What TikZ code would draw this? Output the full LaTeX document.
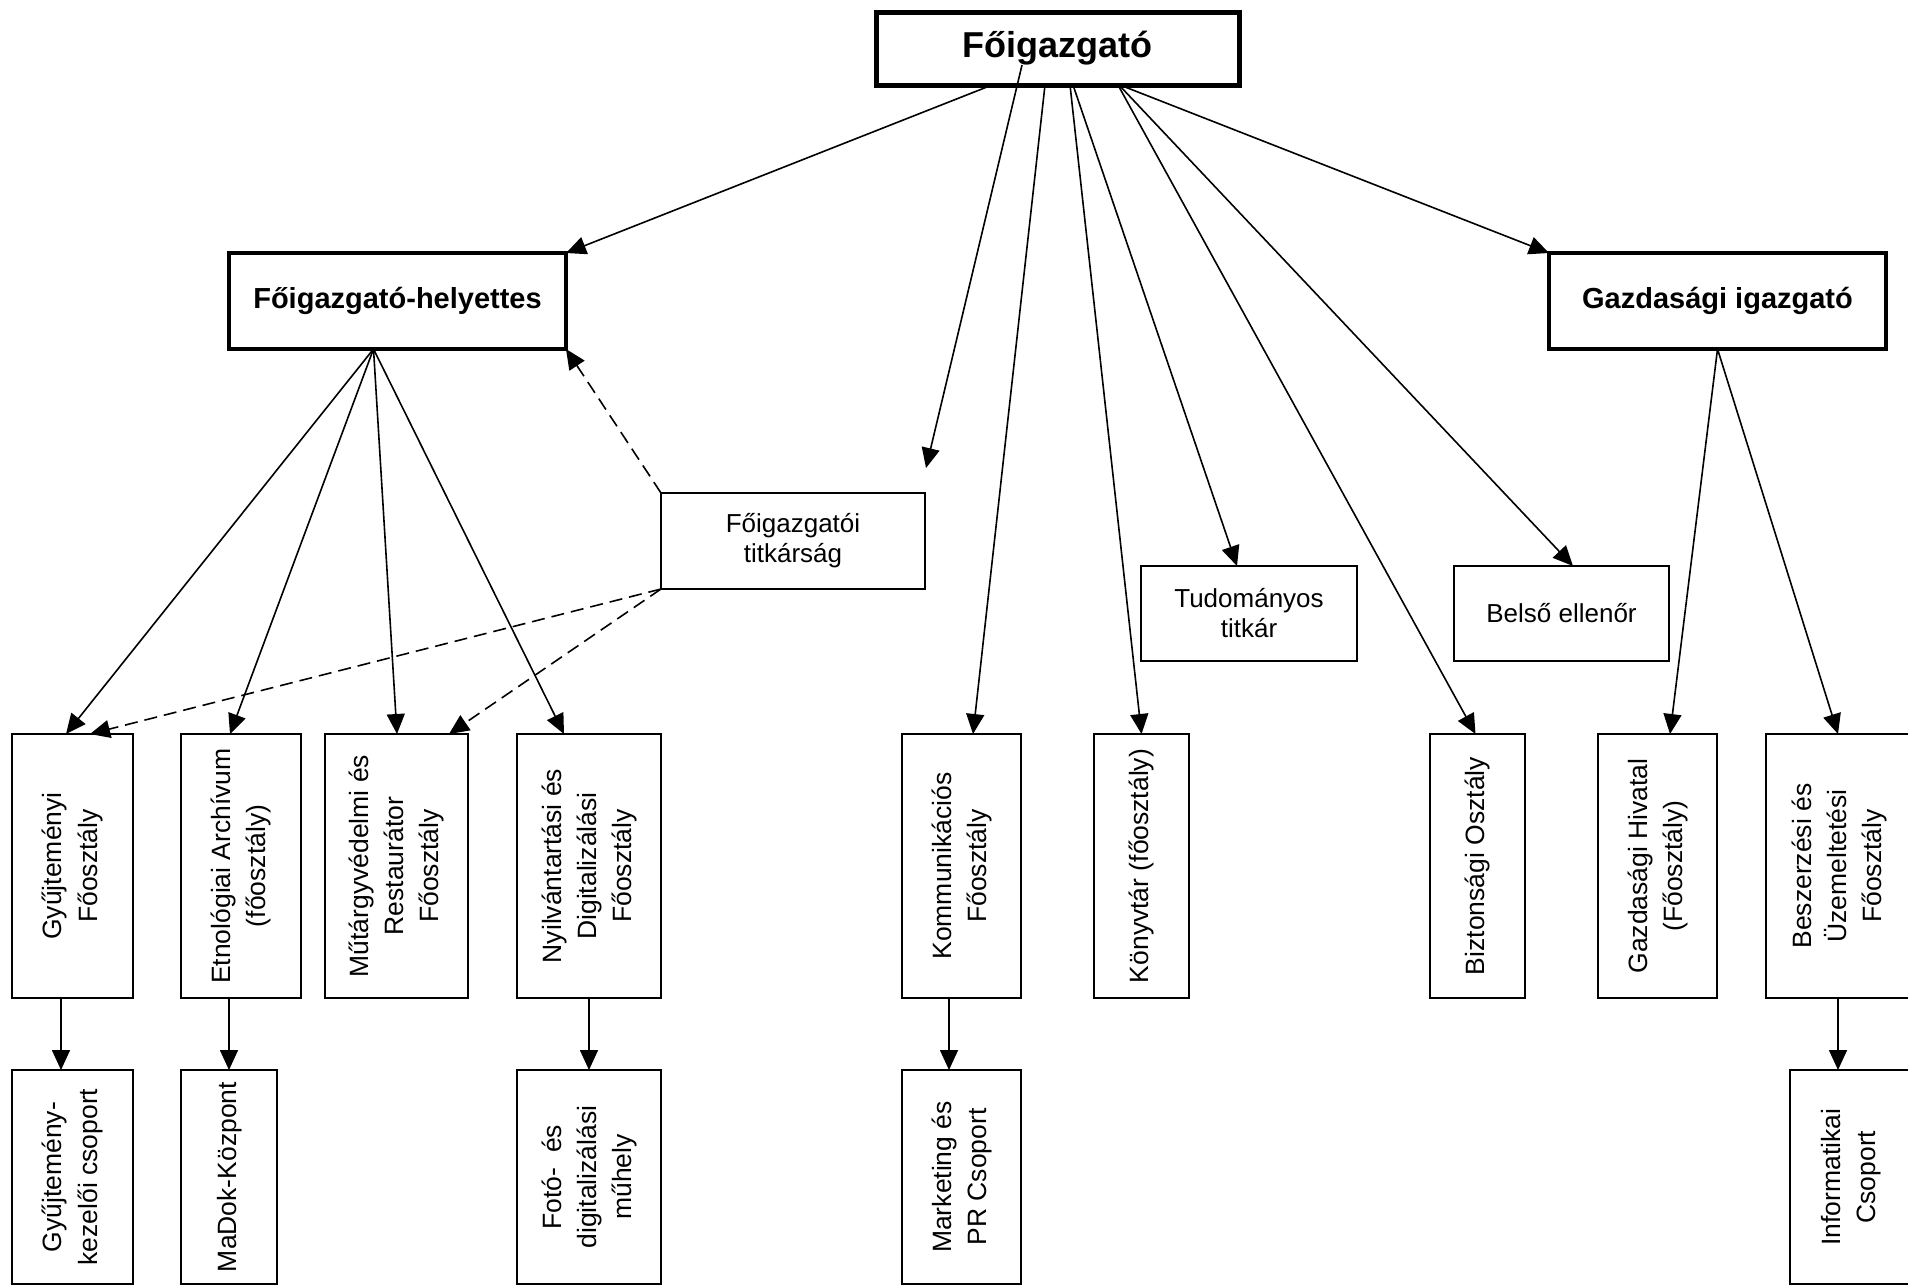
\documentclass[tikz,border=0pt]{standalone}
\usepackage{fontspec}
\setmainfont{Liberation Sans}
\usetikzlibrary{arrows.meta,calc}
\newcommand\vlab[1]{\rotatebox{90}{\fontsize{26.5}{35}\selectfont\begin{tabular}{@{}c@{}}#1\end{tabular}}}
\begin{document}
\begin{tikzpicture}[x=1pt,y=-1pt,
  sz/.style 2 args={minimum width=#1pt, minimum height=#2pt},
  box/.style={draw, line width=2pt, rectangle, inner sep=0pt, outer sep=0pt,
    font=\fontsize{26}{30}\selectfont, align=center},
  headbox/.style={box, line width=4pt, font=\bfseries\fontsize{29}{34}\selectfont},
  titlebox/.style={box, line width=5pt, font=\bfseries\fontsize{36}{42}\selectfont},
  conn/.style={line width=1.6pt, -{Triangle[length=20pt,width=18pt]}},
  dconn/.style={conn, dash pattern=on 13pt off 7pt}]
\useasboundingbox (0,0) rectangle (1908,1286);
% top levels
\node[titlebox, sz={363}{73}] (fo) at (1057.5,48.5) {Főigazgató};
\node[headbox, sz={337}{96}] (fh) at (397.5,301) {Főigazgató-helyettes};
\node[headbox, sz={337}{96}] (gi) at (1717.5,301) {Gazdasági igazgató};
\node[box, sz={264}{96}] (ft) at (793,541) {Főigazgatói\\titkárság};
\node[box, sz={216}{95}] (tt) at (1249,613.5) {Tudományos\\titkár};
\node[box, sz={215}{95}] (be) at (1561.5,613.5) {Belső ellenőr};
% row 1
\node[box, sz={121}{264}] (gy) at (72.5,866) {\vlab{Gyűjteményi\\Főosztály}};
\node[box, sz={120}{264}] (et) at (241,866) {\vlab{Etnológiai Archívum\\(főosztály)}};
\node[box, sz={143}{264}] (mu) at (396.5,866) {\vlab{Műtárgyvédelmi és\\Restaurátor\\Főosztály}};
\node[box, sz={144}{264}] (ny) at (589,866) {\vlab{Nyilvántartási és\\Digitalizálási\\Főosztály}};
\node[box, sz={119}{264}] (ko) at (961.5,866) {\vlab{Kommunikációs\\Főosztály}};
\node[box, sz={95}{264}] (kv) at (1141.5,866) {\vlab{Könyvtár (főosztály)}};
\node[box, sz={95}{264}] (bi) at (1477.5,866) {\vlab{Biztonsági Osztály}};
\node[box, sz={119}{264}] (gh) at (1657.5,866) {\vlab{Gazdasági Hivatal\\(Főosztály)}};
\node[box, sz={146}{264}] (bs) at (1839,866) {\vlab{Beszerzési és\\Üzemeltetési\\Főosztály}};
% row 2
\node[box, sz={121}{214}] (gc) at (72.5,1177) {\vlab{Gyűjtemény-\\kezelői csoport}};
\node[box, sz={96}{214}] (md) at (229,1177) {\vlab{MaDok-Központ}};
\node[box, sz={144}{214}] (fm) at (589,1177) {\vlab{Fotó-\ \ és\\digitalizálási\\műhely}};
\node[box, sz={119}{214}] (mk) at (961.5,1177) {\vlab{Marketing és\\PR Csoport}};
\node[box, sz={122}{214}] (ic) at (1851,1177) {\vlab{Informatikai\\Csoport}};
% connectors from Főigazgató
\coordinate (free) at (926,468);
\draw[conn] ([xshift=-65.5pt]fo.south) -- (fh.north east);
\draw[conn] ([xshift=62.5pt]fo.south) -- (gi.north west);
\draw[conn] ([xshift=-35.5pt,yshift=-16.5pt]fo.center) -- (free);
\draw[conn] ([xshift=-12.5pt]fo.south) -- ([xshift=11.5pt]ko.north);
\draw[conn] ([xshift=12.5pt]fo.south) -- (kv.north);
\draw[conn] ([xshift=15.5pt]fo.south) -- ([xshift=-12pt]tt.north);
\draw[conn] ([xshift=60.5pt]fo.south) -- ([xshift=-2pt]bi.north);
\draw[conn] ([xshift=61.5pt]fo.south) -- ([xshift=11.5pt]be.north);
% from helyettes
\coordinate (fhs) at ([xshift=-24pt]fh.south);
\draw[conn] (fhs) -- ([xshift=-6.5pt]gy.north);
\draw[conn] (fhs) -- ([xshift=-11pt]et.north);
\draw[conn] (fhs) -- ([xshift=0.5pt]mu.north);
\draw[conn] (fhs) -- ([xshift=-25pt]ny.north);
% dashed from titkárság
\draw[dconn] (ft.north west) -- (fh.south east);
\draw[dconn] (ft.south west) -- ([xshift=17.5pt]gy.north);
\draw[dconn] (ft.south west) -- ([xshift=52.5pt]mu.north);
% from gazdasági igazgató
\draw[conn] (gi.south) -- ([xshift=12.5pt]gh.north);
\draw[conn] (gi.south) -- ([xshift=-1pt]bs.north);
% row 1 to row 2
\draw[conn] ([xshift=-11.5pt]gy.south) -- ([xshift=-11.5pt]gc.north);
\draw[conn] ([xshift=-12pt]et.south) -- (md.north);
\draw[conn] (ny.south) -- (fm.north);
\draw[conn] ([xshift=-12.5pt]ko.south) -- ([xshift=-12.5pt]mk.north);
\draw[conn] ([xshift=-1pt]bs.south) -- ([xshift=-13pt]ic.north);
\end{tikzpicture}
\end{document}
